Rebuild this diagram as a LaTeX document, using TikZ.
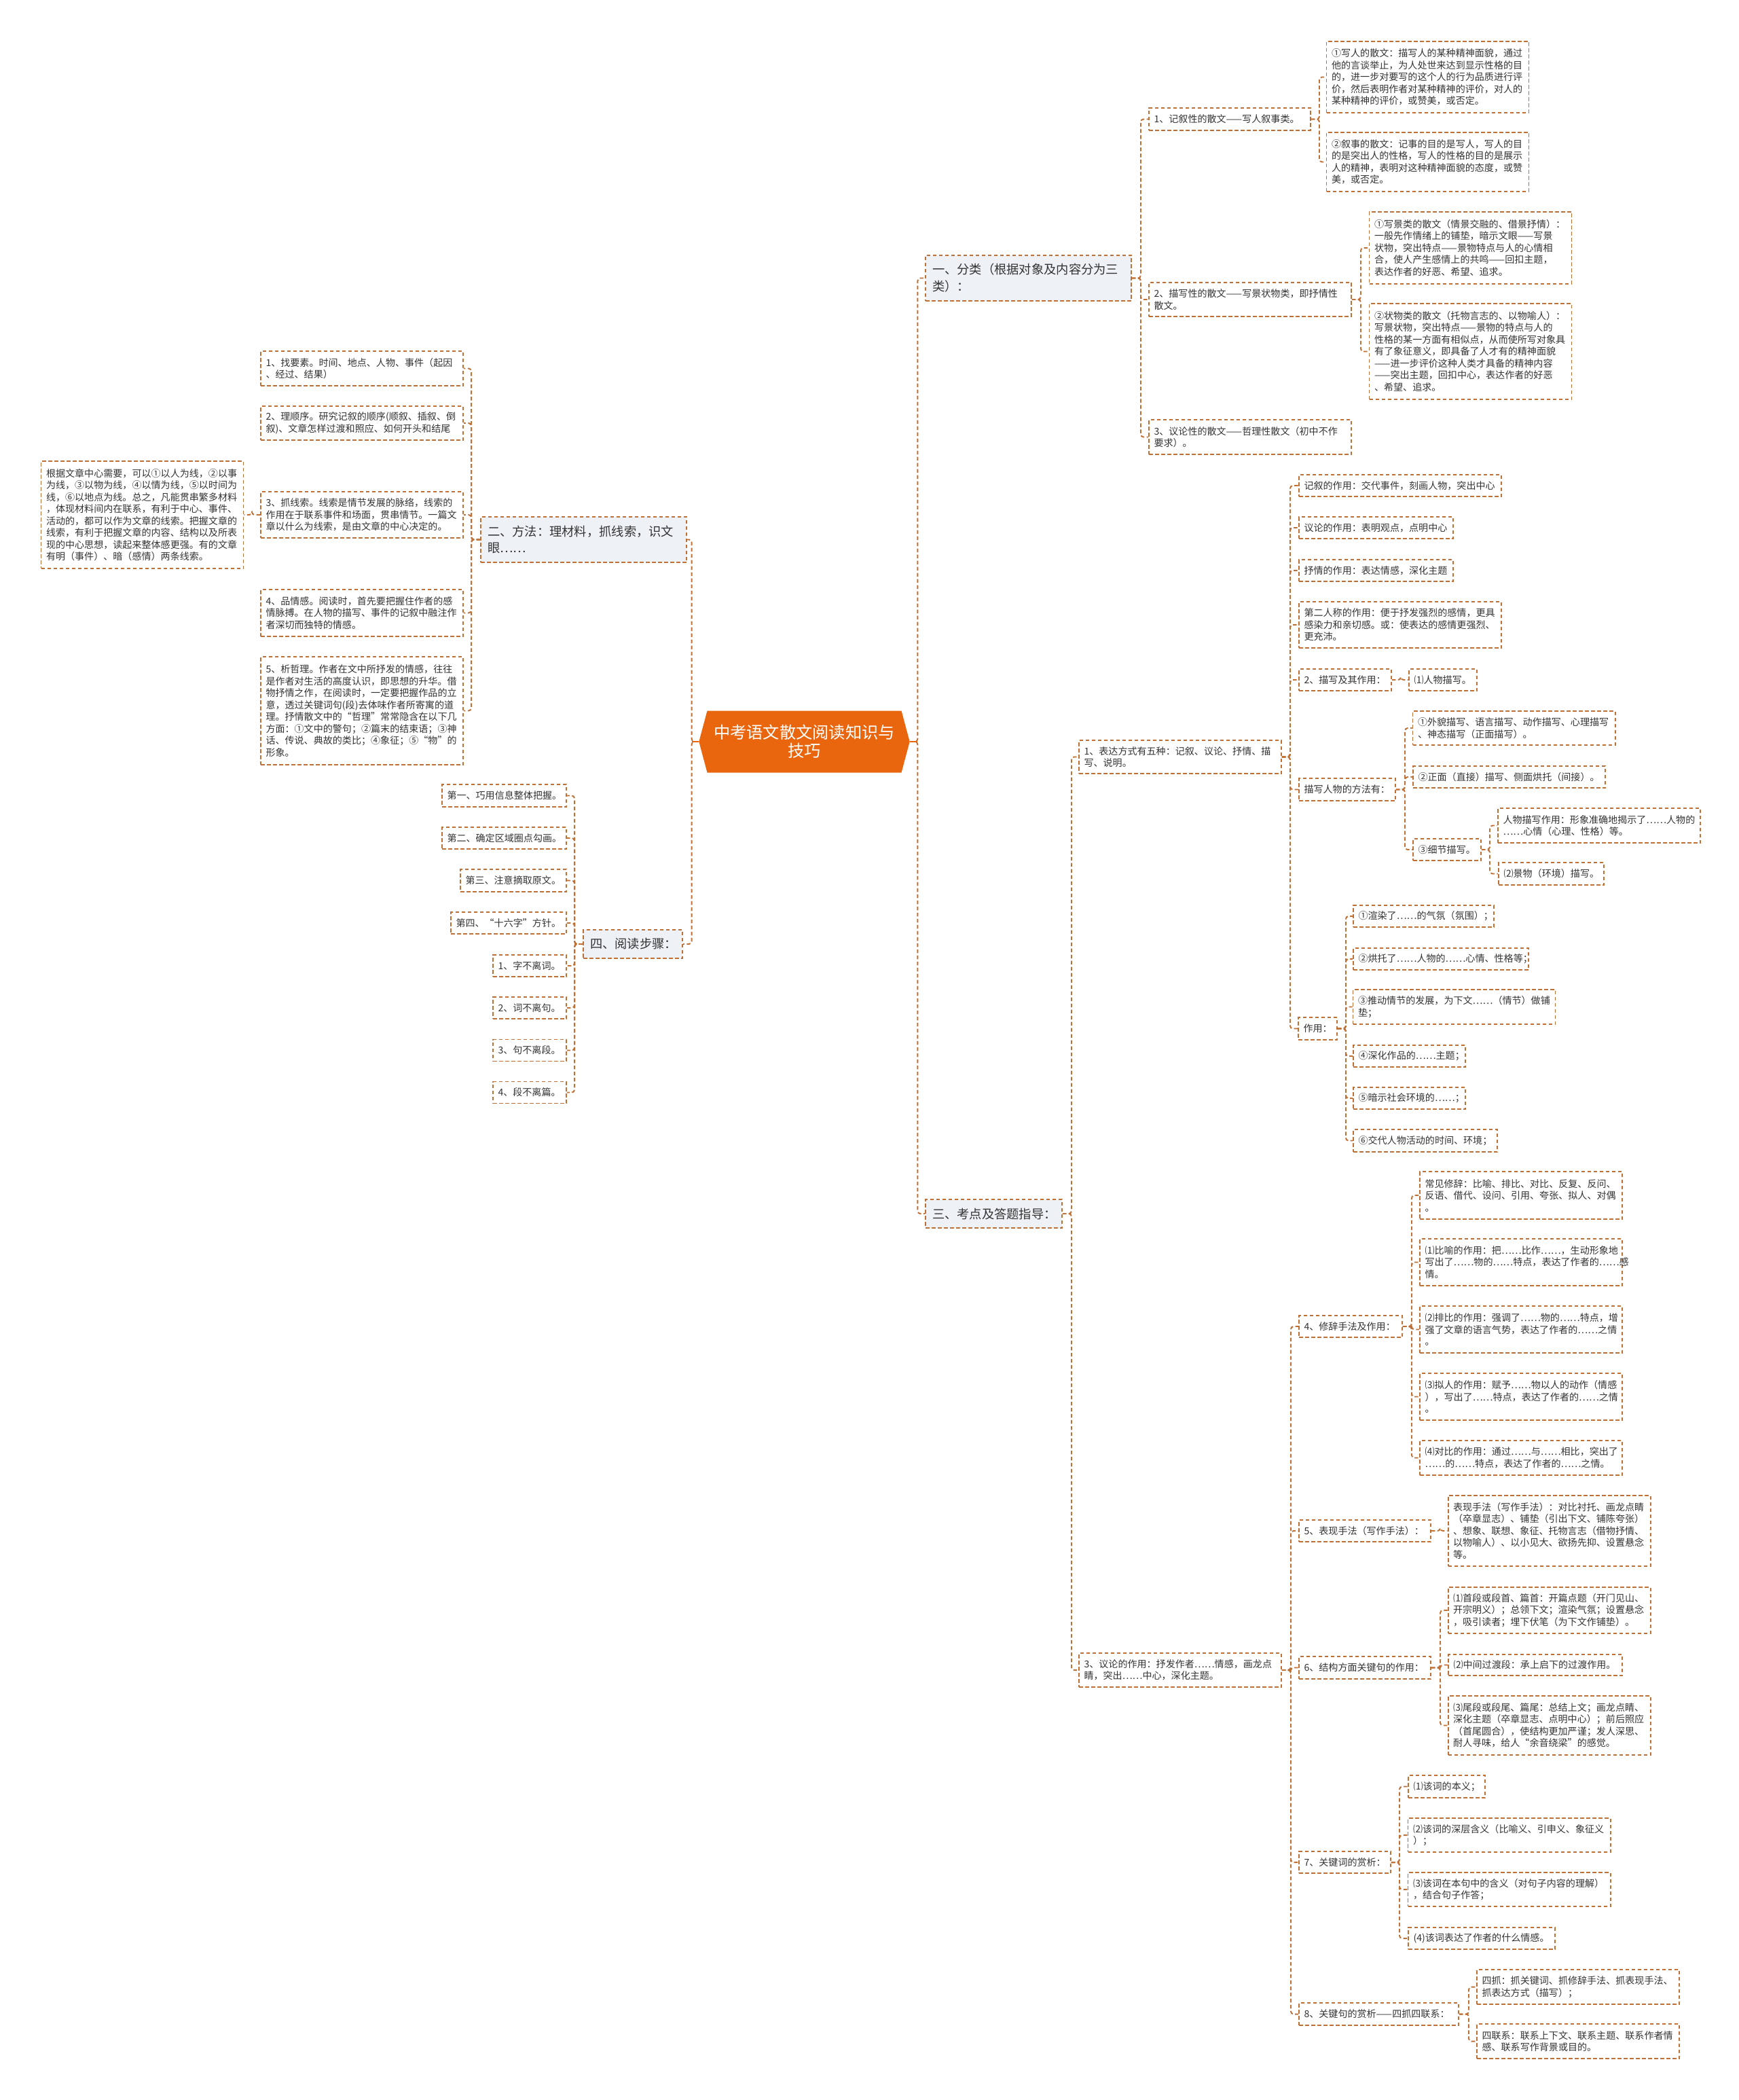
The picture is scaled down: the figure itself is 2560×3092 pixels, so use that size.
\documentclass[tikz,border=0pt]{standalone}
\usepackage{fontspec}
\setmainfont{Noto Sans CJK SC}
\usetikzlibrary{shapes.symbols}
\definecolor{lnk}{RGB}{192,112,52}
\definecolor{rootc}{RGB}{234,102,14}
\definecolor{topicbg}{RGB}{238,241,245}
\definecolor{txt}{RGB}{51,51,51}

\begin{document}
\begin{tikzpicture}[x=0.1mm,y=-0.1mm,
    e/.style={draw=lnk,line width=0.55pt,dash pattern=on 0.55mm off 0.35mm,rounded corners=0.4mm},
    root/.style={signal,signal to=east and west,signal pointer angle=150,fill=rootc,text=white,
      text width=27mm,align=center,inner xsep=0.8mm,minimum height=9.1mm,font=\fontsize{6.9pt}{7.6pt}\selectfont},
    topic/.style={draw=lnk,fill=topicbg,text=txt,line width=0.55pt,dash pattern=on 0.55mm off 0.35mm,
      inner xsep=1mm,inner ysep=0.5mm,align=left,text width=28.3mm,font=\fontsize{5.2pt}{7.1pt}\selectfont},
    leaf/.style={draw=lnk,text=txt,line width=0.55pt,dash pattern=on 0.55mm off 0.35mm,
      inner xsep=0.75mm,inner ysep=0.5mm,align=left,text width=28.3mm,font=\fontsize{4pt}{4.98pt}\selectfont}]
    \path[fill=white,use as bounding box] (0,0) rectangle (2560,3092);
    % centre
    \node[root] (ctr) at (1184.5,1092) {中考语文散文阅读知识与\\技巧};
    % RIGHT: 一、分类
    \node[topic,minimum height=6.7mm] (A) at (1514.5,409.5) {一、分类（根据对象及内容分为三\\类）：};
    \node[leaf,text width=22.3mm,minimum height=3.3mm] (A1) at (1811,175.5) {1、记叙性的散文——写人叙事类。};
    \node[leaf,minimum height=10.5mm] (A1a) at (2102.5,113.5) {①写人的散文：描写人的某种精神面貌，通过\\他的言谈举止，为人处世来达到显示性格的目\\的，进一步对要写的这个人的行为品质进行评\\价，然后表明作者对某种精神的评价，对人的\\某种精神的评价，或赞美，或否定。};
    \node[leaf,minimum height=8.7mm] (A1b) at (2102.5,238.5) {②叙事的散文：记事的目的是写人，写人的目\\的是突出人的性格，写人的性格的目的是展示\\人的精神，表明对这种精神面貌的态度，或赞\\美，或否定。};
    \node[leaf,minimum height=5mm] (A2) at (1841,441) {2、描写性的散文——写景状物类，即抒情性\\散文。};
    \node[leaf,minimum height=10.6mm] (A2a) at (2165.5,365) {①写景类的散文（情景交融的、借景抒情）：\\一般先作情绪上的铺垫，暗示文眼——写景\\状物，突出特点——景物特点与人的心情相\\合，使人产生感情上的共鸣——回扣主题，\\表达作者的好恶、希望、追求。};
    \node[leaf,minimum height=14.1mm] (A2b) at (2165.5,517.5) {②状物类的散文（托物言志的、以物喻人）：\\写景状物，突出特点——景物的特点与人的\\性格的某一方面有相似点，从而使所写对象具\\有了象征意义，即具备了人才有的精神面貌\\——进一步评价这种人类才具备的精神内容\\——突出主题，回扣中心，表达作者的好恶\\、希望、追求。};
    \node[leaf,minimum height=5.1mm] (A3) at (1841,643.5) {3、议论性的散文——哲理性散文（初中不作\\要求）。};
    % RIGHT: 三、考点
    \node[topic,text width=18.1mm,minimum height=4.2mm] (C) at (1463.5,1787) {三、考点及答题指导：};
    \node[leaf,minimum height=4.9mm] (C1) at (1738,1114.5) {1、表达方式有五种：记叙、议论、抒情、描\\写、说明。};
    \node[leaf,minimum height=5mm] (C3) at (1738,2459) {3、议论的作用：抒发作者……情感，画龙点\\睛，突出……中心，深化主题。};
    \node[leaf,minimum height=3.2mm] (C1a) at (2062,715) {记叙的作用：交代事件，刻画人物，突出中心};
    \node[leaf,text width=21.2mm,minimum height=3.2mm] (C1b) at (2026.5,777) {议论的作用：表明观点，点明中心};
    \node[leaf,text width=21.2mm,minimum height=3.2mm] (C1c) at (2026.5,840) {抒情的作用：表达情感，深化主题};
    \node[leaf,minimum height=6.8mm] (C1d) at (2062,920) {第二人称的作用：便于抒发强烈的感情，更具\\感染力和亲切感。或：使表达的感情更强烈、\\更充沛。};
    \node[leaf,text width=12.1mm,minimum height=3.2mm] (C1e) at (1981,1001) {2、描写及其作用：};
    \node[leaf,text width=8.5mm,minimum height=3.2mm] (C1e1) at (2125,1001) {⑴人物描写。};
    \node[leaf,text width=12.7mm,minimum height=3.3mm] (C1f) at (1984,1162.5) {描写人物的方法有：};
    \node[leaf,minimum height=5mm] (C1f1) at (2229.5,1072) {①外貌描写、语言描写、动作描写、心理描写\\、神态描写（正面描写）。};
    \node[leaf,text width=26.8mm,minimum height=3.2mm] (C1f2) at (2222.5,1144) {②正面（直接）描写、侧面烘托（间接）。};
    \node[leaf,text width=8.5mm,minimum height=3.2mm] (C1f3) at (2131,1251) {③细节描写。};
    \node[leaf,minimum height=5.1mm] (C1f3a) at (2355,1215.5) {人物描写作用：形象准确地揭示了……人物的\\……心情（心理、性格）等。};
    \node[leaf,text width=14mm,minimum height=3.3mm] (C1f3b) at (2284.5,1286.5) {⑵景物（环境）描写。};
    \node[leaf,text width=4.2mm,minimum height=3.3mm] (C1g) at (1940.5,1514.5) {作用：};
    \node[leaf,text width=19.2mm,minimum height=3.2mm] (C1g1) at (2096.5,1349) {①渲染了……的气氛（氛围）；};
    \node[leaf,text width=24.3mm,minimum height=3.2mm] (C1g2) at (2122,1412) {②烘托了……人物的……心情、性格等；};
    \node[leaf,minimum height=5.1mm] (C1g3) at (2141.5,1482.5) {③推动情节的发展，为下文……（情节）做铺\\垫；};
    \node[leaf,text width=15mm,minimum height=3.2mm] (C1g4) at (2075.5,1555) {④深化作品的……主题；};
    \node[leaf,text width=15mm,minimum height=3.2mm] (C1g5) at (2075.5,1617) {⑤暗示社会环境的……；};
    \node[leaf,text width=19.7mm,minimum height=3.3mm] (C1g6) at (2099,1679.5) {⑥交代人物活动的时间、环境；};
    \node[leaf,text width=13.7mm,minimum height=3.2mm] (C34) at (1989,1953) {4、修辞手法及作用：};
    \node[leaf,minimum height=7mm] (C34a) at (2240,1760) {常见修辞：比喻、排比、对比、反复、反问、\\反语、借代、设问、引用、夸张、拟人、对偶\\。};
    \node[leaf,minimum height=6.9mm] (C34b) at (2240,1858.5) {⑴比喻的作用：把……比作……，生动形象地\\写出了……物的……特点，表达了作者的……感\\情。};
    \node[leaf,minimum height=6.9mm] (C34c) at (2240,1957.5) {⑵排比的作用：强调了……物的……特点，增\\强了文章的语言气势，表达了作者的……之情\\。};
    \node[leaf,minimum height=6.9mm] (C34d) at (2240,2056.5) {⑶拟人的作用：赋予……物以人的动作（情感\\），写出了……特点，表达了作者的……之情\\。};
    \node[leaf,minimum height=5.1mm] (C34e) at (2240,2146.5) {⑷对比的作用：通过……与……相比，突出了\\……的……特点，表达了作者的……之情。};
    \node[leaf,text width=17.9mm,minimum height=3.2mm] (C35) at (2010,2254) {5、表现手法（写作手法）：};
    \node[leaf,minimum height=10.4mm] (C35a) at (2281.5,2254) {表现手法（写作手法）：对比衬托、画龙点睛\\（卒章显志）、铺垫（引出下文、铺陈夸张）\\、想象、联想、象征、托物言志（借物抒情、\\以物喻人）、以小见大、欲扬先抑、设置悬念\\等。};
    \node[leaf,text width=17.9mm,minimum height=3.3mm] (C36) at (2010,2455.5) {6、结构方面关键句的作用：};
    \node[leaf,minimum height=6.8mm] (C36a) at (2281.5,2371) {⑴首段或段首、篇首：开篇点题（开门见山、\\开宗明义）；总领下文；渲染气氛；设置悬念\\，吸引读者；埋下伏笔（为下文作铺垫）。};
    \node[leaf,text width=24.1mm,minimum height=3.1mm] (C36b) at (2261,2451.5) {⑵中间过渡段：承上启下的过渡作用。};
    \node[leaf,minimum height=8.7mm] (C36c) at (2281.5,2540.5) {⑶尾段或段尾、篇尾：总结上文；画龙点睛、\\深化主题（卒章显志、点明中心）；前后照应\\（首尾圆合），使结构更加严谨；发人深思、\\耐人寻味，给人“余音绕梁”的感觉。};
    \node[leaf,text width=12mm,minimum height=3.2mm] (C37) at (1980.5,2742) {7、关键词的赏析：};
    \node[leaf,text width=9.8mm,minimum height=3.3mm] (C37a) at (2130.5,2630.5) {⑴该词的本义；};
    \node[leaf,minimum height=5mm] (C37b) at (2222.5,2702) {⑵该词的深层含义（比喻义、引申义、象征义\\）；};
    \node[leaf,minimum height=5mm] (C37c) at (2222.5,2782) {⑶该词在本句中的含义（对句子内容的理解）\\，结合句子作答；};
    \node[leaf,text width=20.1mm,minimum height=3.2mm] (C37d) at (2182,2854) {(4)该词表达了作者的什么情感。};
    \node[leaf,text width=22mm,minimum height=3.3mm] (C38) at (2030.5,2965.5) {8、关键句的赏析——四抓四联系：};
    \node[leaf,minimum height=5.1mm] (C38a) at (2324,2925.5) {四抓：抓关键词、抓修辞手法、抓表现手法、\\抓表达方式（描写）；};
    \node[leaf,minimum height=5.1mm] (C38b) at (2324,3005.5) {四联系：联系上下文、联系主题、联系作者情\\感、联系写作背景或目的。};
    % LEFT: 二、方法
    \node[topic,minimum height=6.7mm] (B) at (859.5,794.5) {二、方法：理材料，抓线索，识文\\眼……};
    \node[leaf,minimum height=5.1mm] (B1) at (533,542.5) {1、找要素。时间、地点、人物、事件（起因\\、经过、结果）};
    \node[leaf,minimum height=5mm] (B2) at (533,623) {2、理顺序。研究记叙的顺序(顺叙、插叙、倒\\叙)、文章怎样过渡和照应、如何开头和结尾};
    \node[leaf,minimum height=6.8mm] (B3) at (533,758) {3、抓线索。线索是情节发展的脉络，线索的\\作用在于联系事件和场面，贯串情节。一篇文\\章以什么为线索，是由文章的中心决定的。};
    \node[leaf,minimum height=15.8mm] (B3a) at (209.5,758) {根据文章中心需要，可以①以人为线，②以事\\为线，③以物为线，④以情为线，⑤以时间为\\线，⑥以地点为线。总之，凡能贯串繁多材料\\，体现材料间内在联系，有利于中心、事件、\\活动的，都可以作为文章的线索。把握文章的\\线索，有利于把握文章的内容、结构以及所表\\现的中心思想，读起来整体感更强。有的文章\\有明（事件）、暗（感情）两条线索。};
    \node[leaf,minimum height=6.9mm] (B4) at (533,902.5) {4、品情感。阅读时，首先要把握住作者的感\\情脉搏。在人物的描写、事件的记叙中融注作\\者深切而独特的情感。};
    \node[leaf,minimum height=15.9mm] (B5) at (533,1046.5) {5、析哲理。作者在文中所抒发的情感，往往\\是作者对生活的高度认识，即思想的升华。借\\物抒情之作，在阅读时，一定要把握作品的立\\意，透过关键词句(段)去体味作者所寄寓的道\\理。抒情散文中的“哲理”常常隐含在以下几\\方面：①文中的警句；②篇末的结束语；③神\\话、传说、典故的类比；④象征；⑤“物”的\\形象。};
    % LEFT: 四、阅读步骤
    \node[topic,text width=12.6mm,minimum height=4.2mm] (D) at (932,1390) {四、阅读步骤：};
    \node[leaf,text width=16.8mm,minimum height=3.3mm] (D1) at (742.5,1171.5) {第一、巧用信息整体把握。};
    \node[leaf,text width=16.8mm,minimum height=3.2mm] (D2) at (742.5,1234) {第二、确定区域圈点勾画。};
    \node[leaf,text width=14.1mm,minimum height=3.3mm] (D3) at (756,1296.5) {第三、注意摘取原文。};
    \node[leaf,text width=15.5mm,minimum height=3.2mm] (D4) at (749,1359) {第四、“十六字”方针。};
    \foreach \i/\y/\t in {5/1422/1、字不离词。,6/1484/2、词不离句。,7/1546.5/3、句不离段。,8/1608.5/4、段不离篇。}
      \node[leaf,text width=9.3mm,minimum height=3.2mm] (D\i) at (780,\y) {\t};
    % connectors
    \foreach \c in {A,C} \draw[e] (ctr.east) -- ++(11,0) |- (\c.west);
    \foreach \c in {B,D} \draw[e] (ctr.west) -- ++(-10,0) |- (\c.east);
    \draw[rootc,line width=0.8pt] (ctr.east) -- ++(11,0) (ctr.west) -- ++(-10,0);
    \foreach \c in {A1,A2,A3} \draw[e] (A.east) -- ++(13,0) |- (\c.west);
    \foreach \c in {A1a,A1b} \draw[e] (A1.east) -- ++(12,0) |- (\c.west);
    \foreach \c in {A2a,A2b} \draw[e] (A2.east) -- ++(13,0) |- (\c.west);
    \foreach \c in {C1,C3} \draw[e] (C.east) -- ++(13,0) |- (\c.west);
    \foreach \c in {C1a,C1b,C1c,C1d,C1e,C1f,C1g} \draw[e] (C1.east) -- ++(12,0) |- (\c.west);
    \draw[e] (C1e.east) -- ++(13,0) |- (C1e1.west);
    \foreach \c in {C1f1,C1f2,C1f3} \draw[e] (C1f.east) -- ++(13,0) |- (\c.west);
    \foreach \c in {C1f3a,C1f3b} \draw[e] (C1f3.east) -- ++(12,0) |- (\c.west);
    \foreach \c in {C1g1,C1g2,C1g3,C1g4,C1g5,C1g6} \draw[e] (C1g.east) -- ++(12,0) |- (\c.west);
    \foreach \c in {C34,C35,C36,C37,C38} \draw[e] (C3.east) -- ++(13,0) |- (\c.west);
    \foreach \c in {C34a,C34b,C34c,C34d,C34e} \draw[e] (C34.east) -- ++(13,0) |- (\c.west);
    \draw[e] (C35.east) -- ++(13,0) |- (C35a.west);
    \foreach \c in {C36a,C36b,C36c} \draw[e] (C36.east) -- ++(13,0) |- (\c.west);
    \foreach \c in {C37a,C37b,C37c,C37d} \draw[e] (C37.east) -- ++(12,0) |- (\c.west);
    \foreach \c in {C38a,C38b} \draw[e] (C38.east) -- ++(14,0) |- (\c.west);
    \foreach \c in {B1,B2,B3,B4,B5} \draw[e] (B.west) -- ++(-13,0) |- (\c.east);
    \draw[e] (B3.west) -- ++(-12,0) |- (B3a.east);
    \foreach \c in {D1,D2,D3,D4,D5,D6,D7,D8} \draw[e] (D.west) -- ++(-12,0) |- (\c.east);
\end{tikzpicture}
\end{document}
